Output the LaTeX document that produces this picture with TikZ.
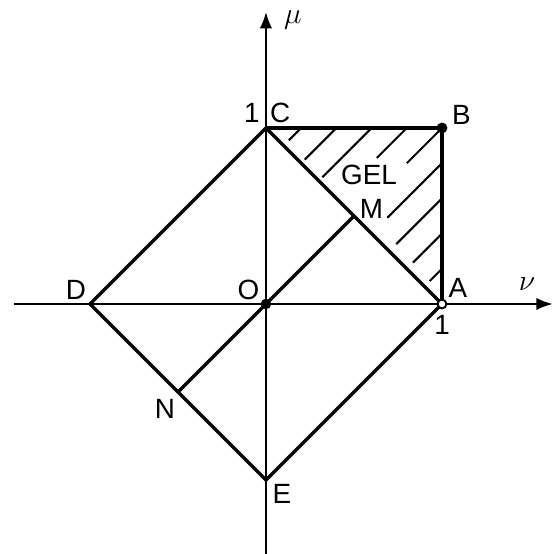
\documentclass[tikz,border=0pt]{standalone}
\usepackage{amsmath}
\usepackage{fontspec}
\setmainfont{Liberation Sans}
\usetikzlibrary{arrows.meta}

\begin{document}
\begin{tikzpicture}[x=3cm,y=3cm,font=\fontsize{13.5}{16}\selectfont,
  edge/.style={line width=1.6pt,line join=round},
  axis/.style={line width=1.2pt,-{Latex[length=8pt,width=6pt]}},
  hatch/.style={line width=1pt},
  dot/.style={fill=black}]
  \useasboundingbox (-1.511,-1.420) rectangle (1.642,1.727);
  \coordinate (O) at (0,0);
  \coordinate (A) at (1,0);
  \coordinate (B) at (1,1);
  \coordinate (C) at (0,1);
  \coordinate (D) at (-1,0);
  \coordinate (E) at (0,-1);
  \coordinate (M) at (0.5,0.5);
  \coordinate (N) at (-0.5,-0.5);
  \coordinate (xs) at (-1.43,0);
  \coordinate (xe) at (1.63,0);
  \coordinate (ys) at (0,-1.42);
  \coordinate (ye) at (0,1.66);
  \draw[axis] (xs) -- (xe);
  \draw[axis] (ys) -- (ye);
  \draw[edge] (A) -- (C) -- (D) -- (E) -- cycle;
  \draw[edge] (C) -- (B) -- (A);
  \draw[edge] (N) -- (M);
  \foreach \k/\s in {-0.8/0.13,-0.6/0.22,-0.4/0.32,-0.2/0.63,0/0.80,0.2/0.69,0.4/0.74,0.6/0.835,0.8/0.93}{
    \pgfmathsetmacro{\e}{min(1+\k,1)}
    \draw[hatch] (\s,\s-\k) -- (\e,\e-\k);
  }
  \fill[dot] (O) circle (0.03);
  \fill[dot] (B) circle (0.031);
  \draw[line width=0.9pt,fill=white] (A) circle (0.025);
  \node[inner sep=0.5pt] (lmu) at (0.153,1.615) {\Large$\mu$};
  \node (lnu) at (1.483,0.114) {\Large$\nu$};
  \node (lA) at (1.09,0.09) {A};
  \node (lone) at (1.0,-0.12) {1};
  \node (lB) at (1.11,1.075) {B};
  \node (lC) at (0.08,1.085) {C};
  \node (lonec) at (-0.08,1.085) {1};
  \node (lO) at (-0.10,0.08) {O};
  \node (lD) at (-1.08,0.08) {D};
  \node (lM) at (0.60,0.54) {M};
  \node (lgel) at (0.585,0.733) {GEL};
  \node (lN) at (-0.574,-0.597) {N};
  \node (lE) at (0.09,-1.08) {E};
\end{tikzpicture}
\end{document}
